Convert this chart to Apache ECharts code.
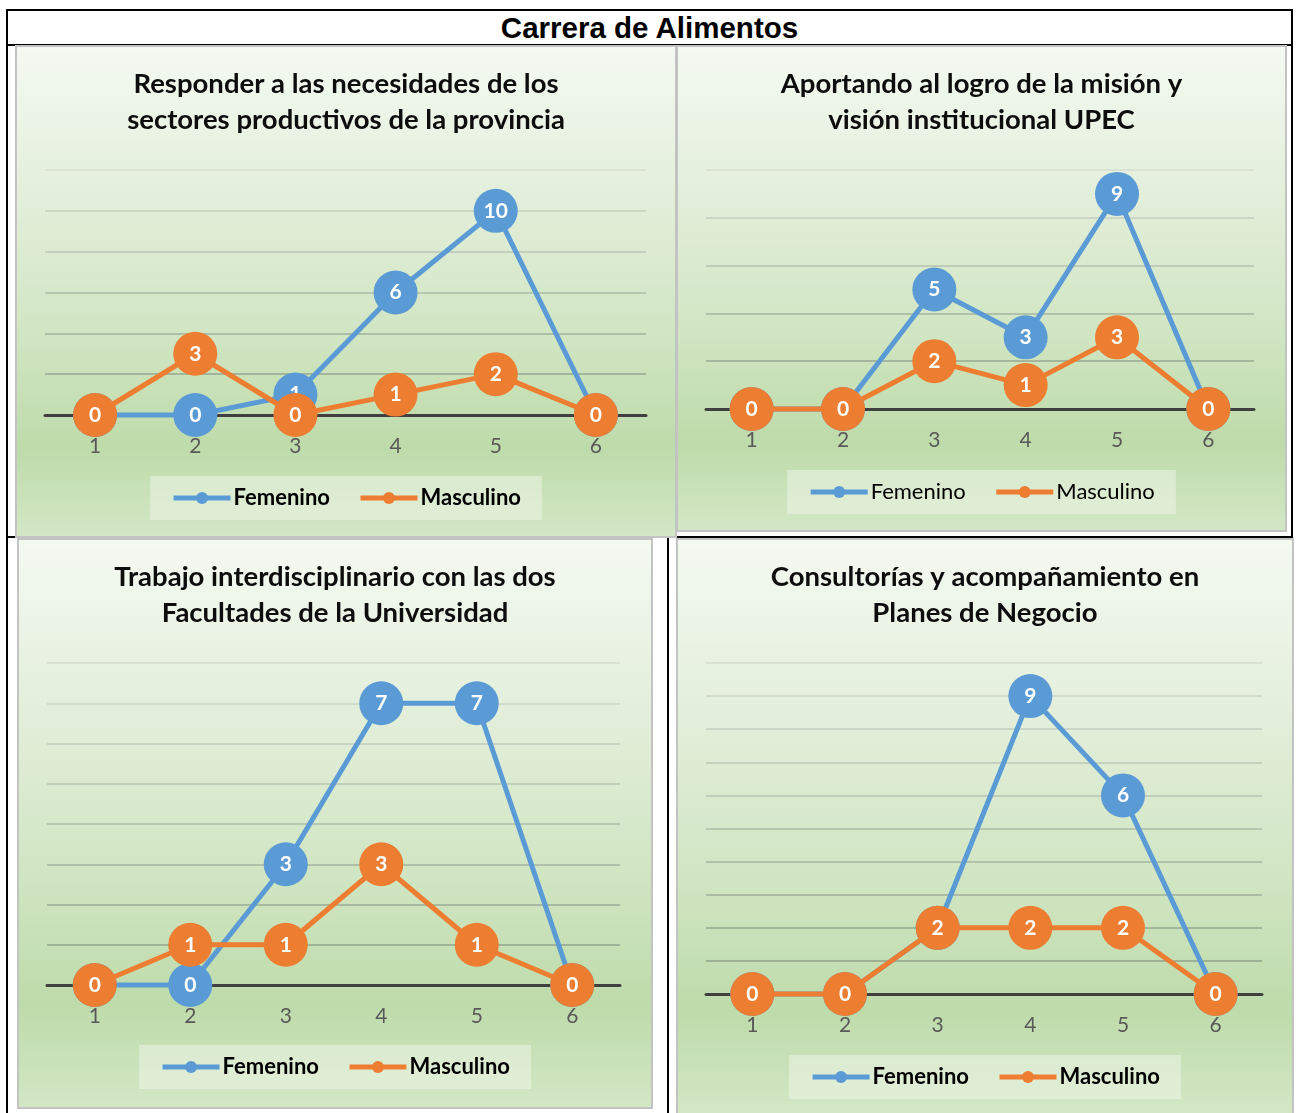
<!DOCTYPE html>
<html>
<head>
<meta charset="utf-8">
<script src="https://cdn.jsdelivr.net/npm/echarts@6/dist/echarts.min.js"></script>
<style>
  html, body { margin: 0; padding: 0; background: #fff; }
  #page { position: relative; width: 1299px; height: 1113px; overflow: hidden; }
  .ln { position: absolute; background: #000; }
  .panel { position: absolute; box-sizing: border-box; border: 2px solid #c3c3c3; }
  #mainTitle { position: absolute; left: 7px; width: 1285px; top: 10px; height: 35px; line-height: 35px;
    text-align: center; font-family: "Liberation Sans", Arial, sans-serif; font-weight: bold; font-size: 29.5px; color: #000; }
</style>
</head>
<body>
<div id="page">
  <div class="ln" style="left:6px;top:9px;width:1287px;height:2px;"></div>
  <div class="ln" style="left:6px;top:9px;width:2px;height:1104px;"></div>
  <div class="ln" style="left:1291px;top:9px;width:2px;height:1104px;"></div>
  <div class="ln" style="left:6px;top:44px;width:1287px;height:2px;"></div>
  <div class="ln" style="left:6px;top:536px;width:1287px;height:2px;"></div>
  <div class="ln" style="left:667px;top:536px;width:2px;height:577px;"></div>
  <div id="mainTitle">Carrera de Alimentos</div>
  <div id="c1" class="panel" style="left:15px;top:45px;width:662px;height:493px;"></div>
  <div id="c2" class="panel" style="left:676px;top:45px;width:611px;height:487px;"></div>
  <div id="c3" class="panel" style="left:17px;top:538px;width:636px;height:571px;"></div>
  <div id="c4" class="panel" style="left:676px;top:538px;width:618px;height:577px;"></div>
</div>
<script>
// ---- data ----
const categories = ['1', '2', '3', '4', '5', '6'];
const seriesNames = ['Femenino', 'Masculino'];

const title1 = 'Responder a las necesidades de los\nsectores productivos de la provincia';
const femenino1 = [0, 0, 1, 6, 10, 0];
const masculino1 = [0, 3, 0, 1, 2, 0];

const title2 = 'Aportando al logro de la misión y\nvisión institucional UPEC';
const femenino2 = [0, 0, 5, 3, 9, 0];
const masculino2 = [0, 0, 2, 1, 3, 0];

const title3 = 'Trabajo interdisciplinario con las dos\nFacultades de la Universidad';
const femenino3 = [0, 0, 3, 7, 7, 0];
const masculino3 = [0, 1, 1, 3, 1, 0];

const title4 = 'Consultorías y acompañamiento en\nPlanes de Negocio';
const femenino4 = [0, 0, 2, 9, 6, 0];
const masculino4 = [0, 0, 2, 2, 2, 0];

// ---- rendering ----
const FONT = 'Lato, "Open Sans", sans-serif';
const bg = {
  type: 'linear', x: 0, y: 0, x2: 0, y2: 1,
  colorStops: [
    { offset: 0, color: '#f4f9f1' },
    { offset: 0.3, color: '#e3efdb' },
    { offset: 0.6, color: '#d0e5c2' },
    { offset: 0.82, color: '#bedbaa' },
    { offset: 1, color: '#d3e7c5' }
  ]
};

function gridColors(n) {
  // from bottom (value 0) to top: darker to lighter
  const dark = [0x88, 0x9c, 0x83], light = [0xd4, 0xdc, 0xcf];
  const out = [];
  for (let i = 0; i <= n; i++) {
    const t = n === 0 ? 0 : i / n;
    const c = dark.map((d, k) => Math.round(d + (light[k] - d) * t));
    out.push('rgb(' + c.join(',') + ')');
  }
  return out;
}

function build(id, title, fem, masc, max, interval, grid, legendTop, legendBold) {
  const chart = echarts.init(document.getElementById(id), null, { renderer: 'canvas' });
  const nLines = max / interval;
  const labelCfg = { show: true, position: 'inside', color: '#fff', fontFamily: FONT, fontWeight: 'bold', fontSize: 21 };
  chart.setOption({
    backgroundColor: bg,
    animation: false,
    title: {
      text: title, left: 'center', top: 19, padding: 0,
      textStyle: { fontFamily: FONT, fontWeight: 'bold', fontSize: 27.5, lineHeight: 36, color: '#0d0d0d' }
    },
    legend: {
      data: seriesNames, left: 'center', top: legendTop,
      backgroundColor: 'rgba(255,255,255,0.35)', padding: [11, 21],
      itemWidth: 57, itemHeight: 15, itemGap: 28,
      lineStyle: { width: 5 },
      textStyle: { fontFamily: FONT, fontWeight: legendBold ? 'bold' : 'normal', fontSize: 22, color: '#000', padding: [0, 0, 0, -2] }
    },
    grid: grid,
    xAxis: {
      type: 'category', data: categories, boundaryGap: true,
      axisLine: { lineStyle: { color: '#404040', width: 3 } },
      axisTick: { show: false },
      axisLabel: { color: '#595959', fontFamily: FONT, fontSize: 21, margin: 21 },
      splitLine: { show: false }
    },
    yAxis: {
      type: 'value', min: 0, max: max, interval: interval,
      axisLabel: { show: false }, axisLine: { show: false }, axisTick: { show: false },
      splitLine: { lineStyle: { color: gridColors(nLines), width: 1.5 } }
    },
    series: [
      { name: seriesNames[0], type: 'line', data: fem, symbol: 'circle', symbolSize: 44, clip: false,
        itemStyle: { color: '#5b9bd5' }, lineStyle: { color: '#5b9bd5', width: 5 }, label: labelCfg, z: 3 },
      { name: seriesNames[1], type: 'line', data: masc, symbol: 'circle', symbolSize: 44, clip: false,
        itemStyle: { color: '#ed7d31' }, lineStyle: { color: '#ed7d31', width: 5 }, label: labelCfg, z: 4 }
    ]
  });
}

build('c1', title1, femenino1, masculino1, 12, 2, { left: 28, right: 29, top: 123, bottom: 121 }, 429, true);
build('c2', title2, femenino2, masculino2, 10, 2, { left: 28, right: 31, top: 123, bottom: 121 }, 423, false);
build('c3', title3, femenino3, masculino3, 8, 1, { left: 28, right: 31, top: 123, bottom: 122 }, 505, true);
build('c4', title4, femenino4, masculino4, 10, 1, { left: 28, right: 30, top: 123, bottom: 119 }, 515, true);
</script>
</body>
</html>
